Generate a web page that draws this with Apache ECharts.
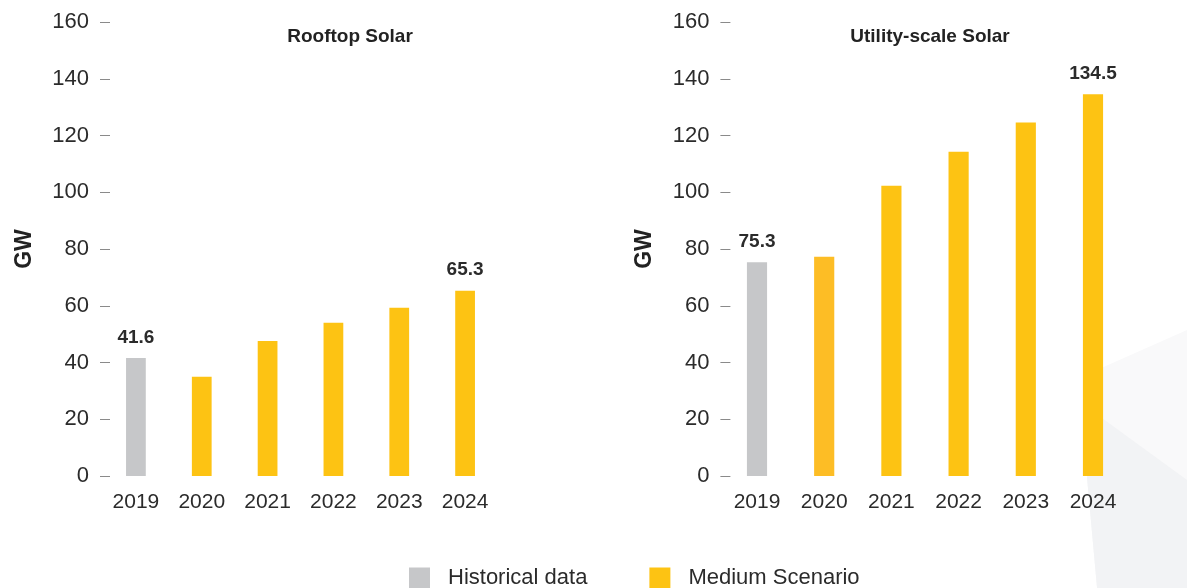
<!DOCTYPE html>
<html>
<head>
<meta charset="utf-8">
<script src="https://cdn.jsdelivr.net/npm/echarts@6/dist/echarts.min.js"></script>
<style>
  html, body { margin: 0; padding: 0; background: #fff; }
  #chart { width: 1187px; height: 588px; }
</style>
</head>
<body>
<div id="chart"></div>
<script>
// data
const years = ['2019', '2020', '2021', '2022', '2023', '2024'];
const rooftopHistorical = [41.6, '-', '-', '-', '-', '-'];
const rooftopMedium = ['-', 35.0, 47.6, 54.0, 59.3, 65.3];
const utilityHistorical = [75.3, '-', '-', '-', '-', '-'];
const utilityMedium = ['-', 77.3, 102.3, 114.3, 124.6, 134.5];
const labelledRooftop = [0, 5]; // bars that get a value label
const labelledUtility = [0, 5];

const grey = '#c6c7c9';
const yellow = '#fdc313';
const font = '"Liberation Sans", Arial, sans-serif';

const myChart = echarts.init(document.getElementById('chart'));

// put a label on the chosen bars
const withLabels = (arr, idx) =>
  arr.map((v, i) => (idx.includes(i) && v !== '-'
    ? { value: v, label: { show: true } }
    : v));

const valueLabel = {
  show: false,
  position: 'top',
  distance: 11,
  fontFamily: font,
  fontSize: 19,
  fontWeight: 'bold',
  color: '#2b2b2b',
};

const yAxisCommon = {
  type: 'value',
  min: 0,
  max: 160,
  interval: 20,
  offset: -7,
  name: 'GW',
  nameLocation: 'middle',
  nameRotate: 90,
  nameGap: 74,
  nameTextStyle: { fontFamily: font, fontSize: 23, fontWeight: 'bold', color: '#222' },
  axisLine: { show: false },
  axisTick: { show: true, length: 10, lineStyle: { color: '#8a8a8a', width: 1 } },
  splitLine: { show: false },
  axisLabel: { margin: 21, fontFamily: font, fontSize: 22, color: '#2b2b2b' },
};

const xAxisCommon = {
  type: 'category',
  data: years,
  axisLine: { show: false },
  axisTick: { show: false },
  axisLabel: { margin: 16, fontFamily: font, fontSize: 21, color: '#2b2b2b' },
};

const option = {
  backgroundColor: '#fff',
  animation: false,
  color: [grey, yellow],
  title: [
    {
      text: 'Rooftop Solar',
      left: 345, top: 22, textAlign: 'center',
      textStyle: { fontFamily: font, fontSize: 19, fontWeight: 'bold', color: '#222' },
    },
    {
      text: 'Utility-scale Solar',
      left: 925, top: 22, textAlign: 'center',
      textStyle: { fontFamily: font, fontSize: 19, fontWeight: 'bold', color: '#222' },
    },
  ],
  legend: {
    data: ['Historical data', 'Medium Scenario'],
    left: 404,
    top: 562,
    icon: 'rect',
    itemWidth: 21,
    itemHeight: 21,
    itemGap: 62,
    textStyle: { fontFamily: font, fontSize: 22, color: '#2b2b2b', padding: [0, 0, 0, 13] },
  },
  // faint background facets, bottom right
  graphic: [
    {
      type: 'polygon',
      z: -10,
      shape: { points: [[1090, 373], [1187, 330], [1187, 588], [1097, 588], [1087, 478]] },
      style: { fill: '#f9f9fa' },
    },
    {
      type: 'polygon',
      z: -9,
      shape: { points: [[1095, 413], [1187, 480], [1187, 588], [1097, 588], [1087, 478]] },
      style: { fill: '#f2f3f5' },
    },
  ],
  grid: [
    { left: 103, width: 395, top: 22, height: 454 },
    { left: 723.4, width: 403.2, top: 22, height: 454 },
  ],
  xAxis: [
    Object.assign({ gridIndex: 0 }, xAxisCommon),
    Object.assign({ gridIndex: 1 }, xAxisCommon),
  ],
  yAxis: [
    Object.assign({ gridIndex: 0 }, yAxisCommon),
    Object.assign({ gridIndex: 1 }, yAxisCommon),
  ],
  series: [
    {
      name: 'Historical data', type: 'bar', stack: 'roof', xAxisIndex: 0, yAxisIndex: 0,
      barWidth: '30%', itemStyle: { color: grey }, label: valueLabel,
      data: withLabels(rooftopHistorical, labelledRooftop),
    },
    {
      name: 'Medium Scenario', type: 'bar', stack: 'roof', xAxisIndex: 0, yAxisIndex: 0,
      barWidth: '30%', itemStyle: { color: yellow }, label: valueLabel,
      data: withLabels(rooftopMedium, labelledRooftop),
    },
    {
      name: 'Historical data', type: 'bar', stack: 'util', xAxisIndex: 1, yAxisIndex: 1,
      barWidth: '30%', itemStyle: { color: grey }, label: valueLabel,
      data: withLabels(utilityHistorical, labelledUtility),
    },
    {
      name: 'Medium Scenario', type: 'bar', stack: 'util', xAxisIndex: 1, yAxisIndex: 1,
      barWidth: '30%', itemStyle: { color: yellow }, label: valueLabel,
      // 2020 bar is a slightly warmer yellow in the original
      data: withLabels(utilityMedium, labelledUtility).map((d, i) =>
        (i === 1 ? { value: d, itemStyle: { color: '#fdbd25' } } : d)),
    },
  ],
};

myChart.setOption(option);
window.addEventListener('resize', () => myChart.resize());
</script>
</body>
</html>
